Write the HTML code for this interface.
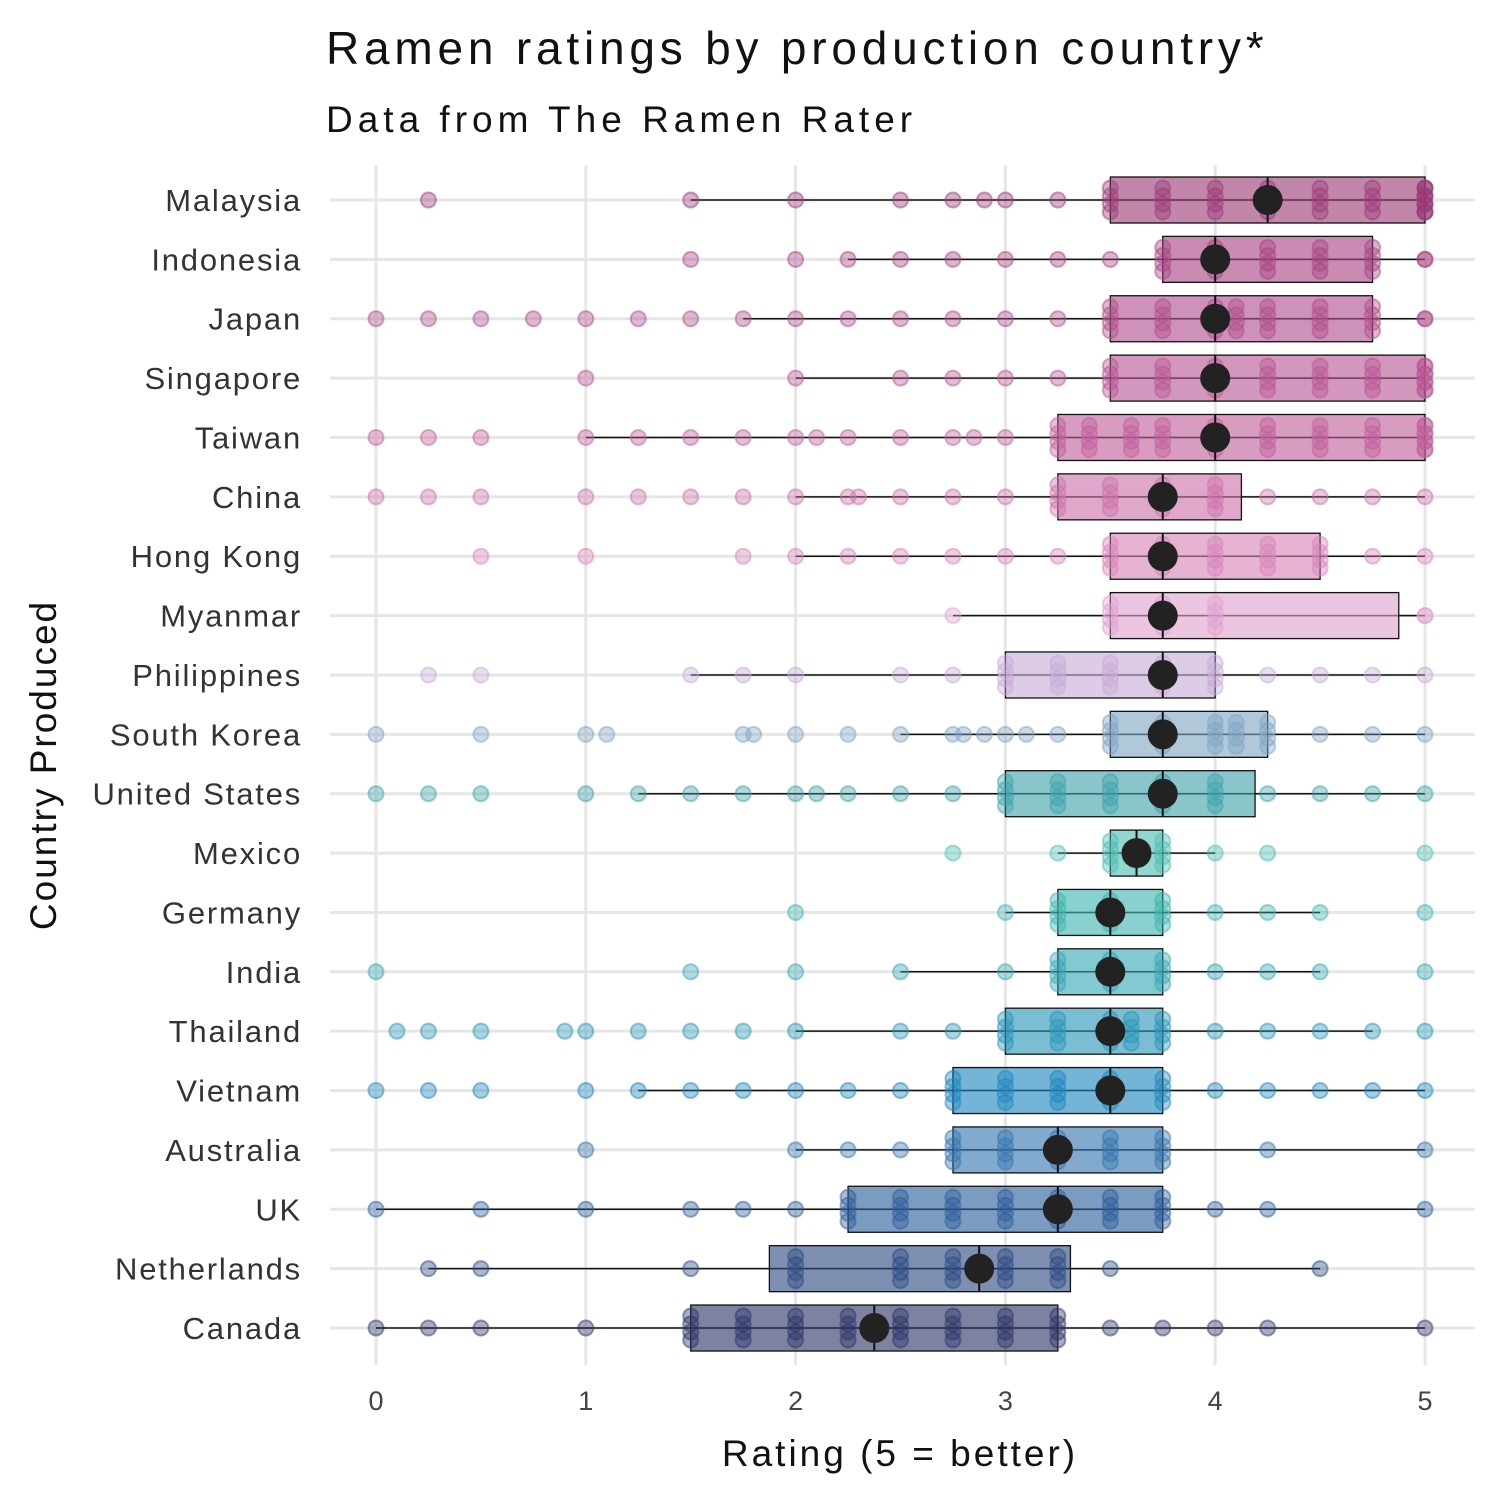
<!DOCTYPE html>
<html><head><meta charset="utf-8"><style>
body{margin:0;background:#fff}
svg{display:block;font-family:"Liberation Sans",sans-serif}
</style></head><body>
<svg id="chart" width="1500" height="1500" viewBox="0 0 1500 1500">
<text x="326" y="64" font-size="46" letter-spacing="4.8" fill="#111">Ramen ratings by production country*</text>
<text x="326" y="132" font-size="37" letter-spacing="5" fill="#111">Data from The Ramen Rater</text>
<g id="grid"></g><g id="marks"></g><g id="axes"></g>
<text x="900" y="1466" font-size="37" letter-spacing="3" text-anchor="middle" fill="#111">Rating (5 = better)</text>
<text transform="translate(56,765) rotate(-90)" font-size="37" letter-spacing="2" text-anchor="middle" fill="#111">Country Produced</text>
</svg>
<script>
const countries=["Malaysia","Indonesia","Japan","Singapore","Taiwan","China","Hong Kong","Myanmar","Philippines","South Korea","United States","Mexico","Germany","India","Thailand","Vietnam","Australia","UK","Netherlands","Canada"];
const q1=[3.5,3.75,3.5,3.5,3.25,3.25,3.5,3.5,3,3.5,3,3.5,3.25,3.25,3,2.75,2.75,2.25,1.875,1.5];
const medians=[4.25,4,4,4,4,3.75,3.75,3.75,3.75,3.75,3.75,3.625,3.5,3.5,3.5,3.5,3.25,3.25,2.875,2.375];
const q3=[5,4.75,4.75,5,5,4.125,4.5,4.875,4,4.25,4.19,3.75,3.75,3.75,3.75,3.75,3.75,3.75,3.31,3.25];
const whiskLo=[1.5,2.25,1.75,2,1,2,2,2.75,1.5,2.5,1.25,3.25,3,2.5,2,1.25,2,0,0.25,0];
const whiskHi=[5,5,5,5,5,5,5,5,5,5,5,4,4.5,4.5,4.75,5,5,5,4.5,5];
const points=[
[0.25,1.5,2,2.5,2.75,2.9,3,3.25,3.5,3.75,4,4.25,4.5,4.75,5,5,5],
[1.5,2,2.25,2.5,2.75,3,3.25,3.5,3.75,4,4.25,4.5,4.75,5,5],
[0,0.25,0.5,0.75,1,1.25,1.5,1.75,2,2.25,2.5,2.75,3,3.25,3.5,3.75,4,4.1,4.25,4.5,4.75,5,5],
[1,2,2.5,2.75,3,3.25,3.5,3.75,4,4.25,4.5,4.75,5,5],
[0,0.25,0.5,1,1.25,1.5,1.75,2,2.1,2.25,2.5,2.75,2.85,3,3.25,3.4,3.6,3.75,4,4.25,4.5,4.75,5,5],
[0,0.25,0.5,1,1.25,1.5,1.75,2,2.25,2.3,2.5,2.75,3,3.25,3.5,3.75,4,4.25,4.5,4.75,5],
[0.5,1,1.75,2,2.25,2.5,2.75,3,3.25,3.5,3.75,4,4.25,4.5,4.75,5],
[2.75,3.5,3.75,4,5,5],
[0.25,0.5,1.5,1.75,2,2.5,2.75,3,3.25,3.5,3.75,4,4.25,4.5,4.75,5],
[0,0.5,1,1.1,1.75,1.8,2,2.25,2.5,2.75,2.8,2.9,3,3.1,3.25,3.5,3.75,4,4.1,4.25,4.5,4.75,5],
[0,0.25,0.5,1,1.25,1.5,1.75,2,2.1,2.25,2.5,2.75,3,3.25,3.5,3.75,4,4.25,4.5,4.75,5],
[2.75,3.25,3.5,3.75,4,4.25,5],
[2,3,3.25,3.5,3.75,4,4.25,4.5,5],
[0,1.5,2,2.5,3,3.25,3.5,3.75,4,4.25,4.5,5],
[0.1,0.25,0.5,0.9,1,1.25,1.5,1.75,2,2.5,2.75,3,3.25,3.5,3.6,3.75,4,4.25,4.5,4.75,5],
[0,0.25,0.5,1,1.25,1.5,1.75,2,2.25,2.5,2.75,3,3.25,3.5,3.75,4,4.25,4.5,4.75,5],
[1,2,2.25,2.5,2.75,3,3.25,3.5,3.75,4.25,5],
[0,0.5,1,1.5,1.75,2,2.25,2.5,2.75,3,3.25,3.5,3.75,4,4.25,5],
[0.25,0.5,1.5,2,2.5,2.75,3,3.25,3.5,4.5],
[0,0.25,0.5,1,1.5,1.75,2,2.25,2.5,2.75,3,3.25,3.5,3.75,4,4.25,5]
];
const xTicks=[0,1,2,3,4,5];
const colors=["#9c3b78","#a84483","#b04d8b","#b85593","#c0609b","#cc72a9","#d685b8","#e0a3cf","#c7acd6","#7fa6c4","#3fa3ad","#4dbfb3","#3fb5b0","#35a8b5","#2a96b8","#1f86bd","#3576b0","#2c5d9a","#2e4a82","#2d3568"];
const NS="http://www.w3.org/2000/svg";
const x=v=>376+v*209.8;
const y=i=>200+i*59.37;
function mk(tag,attrs,parent){const e=document.createElementNS(NS,tag);for(const k in attrs)e.setAttribute(k,attrs[k]);parent.appendChild(e);return e;}
const grid=document.getElementById('grid'),marks=document.getElementById('marks'),axes=document.getElementById('axes');
xTicks.forEach(t=>{
 const l=mk('line',{x1:x(t),x2:x(t),y1:165,y2:1365,stroke:'#e6e6e6','stroke-width':3},grid);
 
 
 const tx=mk('text',{x:x(t),y:1410,'font-size':27,'text-anchor':'middle',fill:'#444'},axes);
 tx.textContent=t;
 
 
});
countries.forEach((c,i)=>{
 const l=mk('line',{x1:330,x2:1475,y1:y(i),y2:y(i),stroke:'#e6e6e6','stroke-width':3},grid);
 
 
 const tx=mk('text',{x:302,y:y(i)+11,'font-size':31,'letter-spacing':1.8,'text-anchor':'end',fill:'#333'},axes);
 tx.textContent=c;
 
 
 const g=mk('g',{},marks);
 
 
 const wl=mk('line',{x1:x(whiskLo[i]),x2:x(whiskHi[i]),y1:y(i),y2:y(i),stroke:'#111','stroke-width':1.5},g);
 
 
 const b=mk('rect',{x:x(q1[i]),y:y(i)-23,width:x(q3[i])-x(q1[i]),height:46,fill:colors[i],'fill-opacity':0.62,stroke:'#111','stroke-width':1.3},g);
 
 
 points[i].forEach((v,j)=>{
  const inBox=v>=q1[i]&&v<=q3[i];
  const offs=inBox?[-12,-4,4,12]:[0];
  offs.forEach(o=>{
   const p=mk('circle',{cx:x(v),cy:y(i)+o,r:7.5,fill:colors[i],'fill-opacity':0.4,stroke:colors[i],'stroke-opacity':0.5,'stroke-width':2},g);
   
   
  });
 });
 const ml=mk('line',{x1:x(medians[i]),x2:x(medians[i]),y1:y(i)-23,y2:y(i)+23,stroke:'#111','stroke-width':2},g);
 
 
 const md=mk('circle',{cx:x(medians[i]),cy:y(i),r:15,fill:'#222'},g);
 
 
});
</script>
</body></html>
